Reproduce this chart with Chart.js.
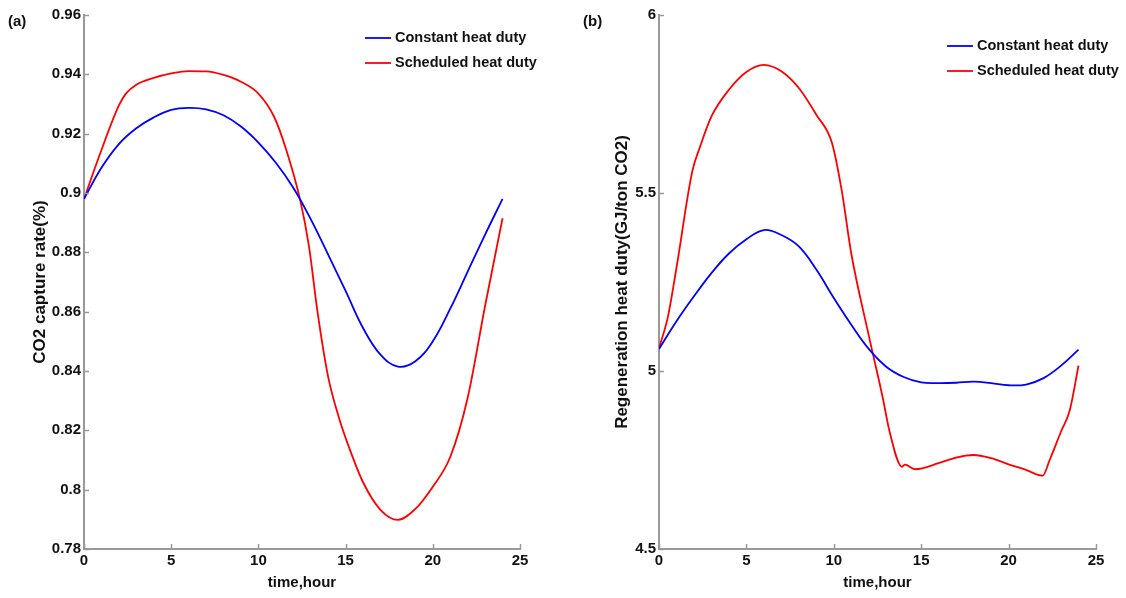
<!DOCTYPE html>
<html>
<head>
<meta charset="utf-8">
<script src="https://cdn.jsdelivr.net/npm/chart.js@4.4.0/dist/chart.umd.min.js"></script>
<style>
  body { margin: 0; background: #fff; }
  canvas { position: absolute; top: 0; }
  #chartA { left: 0; }
  #chartB { left: 560px; }
</style>
</head>
<body>
<canvas id="chartA" width="560" height="598"></canvas>
<canvas id="chartB" width="566" height="598"></canvas>
<script>
// (a) CO2 capture rate
var hoursConstA = [0,1,2,3,4,5,6,7,8,9,10,11,12,13,14,15,16,17,18,19,20,21,22,23,24];
var captureConst = [0.898,0.9085,0.9165,0.9218,0.9255,0.928,0.9287,0.9282,0.9262,0.9224,0.917,0.9102,0.9018,0.8912,0.8792,0.867,0.8545,0.8455,0.8415,0.8433,0.850,0.861,0.8735,0.886,0.898];
var hoursSchedA = [0,1,2,2.4,3,4,5,6,7,8,9,10,10.9,11.6,12.4,12.9,13.4,14,14.6,15.25,16,17,18,19,20,21,22,23,24];
var captureSched = [0.898,0.9145,0.9295,0.9335,0.9365,0.9388,0.9403,0.9411,0.941,0.9398,0.9375,0.9335,0.9257,0.9145,0.8975,0.882,0.8595,0.838,0.8246,0.8134,0.8025,0.7932,0.7898,0.7935,0.801,0.811,0.831,0.862,0.8915];

// (b) regeneration heat duty
var hoursConstB = [0,1,2,3,4,5,6,7,8,9,10,11,12,13,14,15,16,17,18,19,20,21,22,23,24];
var dutyConst = [5.062,5.14,5.21,5.275,5.33,5.37,5.396,5.382,5.35,5.285,5.205,5.13,5.062,5.012,4.983,4.968,4.966,4.967,4.970,4.966,4.960,4.962,4.980,5.015,5.06];
var hoursSchedB = [0,0.5,1,1.9,2.35,3,4,5,6,7,8,9,9.9,10.45,11,12,12.8,13.2,13.9,14.07,14.65,16,17,18,19,20,21,21.95,22.35,23,23.5,24];
var dutySched = [5.064,5.15,5.29,5.56,5.63,5.715,5.79,5.84,5.86,5.842,5.795,5.72,5.64,5.508,5.33,5.10,4.925,4.828,4.731,4.737,4.724,4.741,4.757,4.764,4.755,4.738,4.722,4.706,4.75,4.83,4.89,5.015];

var seriesNames = ['Constant heat duty', 'Scheduled heat duty'];
var seriesColors = ['#0000ff', '#ff0000'];

Chart.defaults.font.family = '"Liberation Sans", Arial, sans-serif';
Chart.defaults.font.weight = 'bold';
Chart.defaults.color = '#111';

function pts(xs, ys) {
    return xs.map(function (x, i) { return { x: x, y: ys[i] }; });
}

// legend, panel tag and inward tick marks, drawn the matlab way
var decor = {
    id: 'decor',
    afterDraw: function (chart, args, opts) {
        var ctx = chart.ctx;
        var area = chart.chartArea;
        ctx.save();
        ctx.strokeStyle = '#999';
        ctx.lineWidth = 1.5;
        chart.scales.x.ticks.forEach(function (t) {
            var px = Math.round(chart.scales.x.getPixelForValue(t.value)) + 0.5;
            ctx.beginPath();
            ctx.moveTo(px, area.bottom);
            ctx.lineTo(px, area.bottom - 5);
            ctx.stroke();
        });
        chart.scales.y.ticks.forEach(function (t) {
            var py = Math.round(chart.scales.y.getPixelForValue(t.value)) + 0.5;
            ctx.beginPath();
            ctx.moveTo(area.left, py);
            ctx.lineTo(area.left + 5, py);
            ctx.stroke();
        });

        ctx.font = 'bold 14.5px "Liberation Sans", Arial, sans-serif';
        ctx.textBaseline = 'middle';
        ctx.fillStyle = '#111';
        chart.data.datasets.forEach(function (ds, i) {
            var y = opts.legendY + i * opts.rowGap;
            ctx.strokeStyle = ds.borderColor;
            ctx.lineWidth = 1.8;
            ctx.beginPath();
            ctx.moveTo(opts.legendX, y);
            ctx.lineTo(opts.legendX + 26, y);
            ctx.stroke();
            ctx.fillText(ds.label, opts.legendX + 30, y);
        });

        ctx.font = 'bold 15px "Liberation Sans", Arial, sans-serif';
        ctx.fillText(opts.tag, opts.tagX, 22);
        ctx.restore();
    }
};

function makeChart(id, sets, yMin, yMax, yStep, yTitle, yDigits, axisWidth, titlePad, padRight, decorOpts) {
    return new Chart(document.getElementById(id), {
        type: 'line',
        data: {
            datasets: sets.map(function (s, i) {
                return {
                    label: seriesNames[i],
                    data: s,
                    borderColor: seriesColors[i],
                    borderWidth: 1.8,
                    pointRadius: 0,
                    tension: 0.4,
                    cubicInterpolationMode: i === 0 ? 'default' : 'monotone',
                    fill: false
                };
            })
        },
        options: {
            responsive: false,
            animation: false,
            layout: { padding: { top: 15, right: padRight, left: 0, bottom: 0 } },
            plugins: {
                legend: { display: false },
                tooltip: { enabled: false },
                decor: decorOpts
            },
            scales: {
                x: {
                    type: 'linear',
                    min: 0,
                    max: 25,
                    ticks: { stepSize: 5, padding: 3, font: { size: 15, weight: 'bold' }, maxRotation: 0 },
                    grid: { display: false, drawTicks: false },
                    border: { display: true, color: '#999', width: 2 },
                    title: { display: true, text: 'time,hour', font: { size: 15, weight: 'bold' }, padding: { top: 0, bottom: 6 } },
                    afterFit: function (scale) { scale.height = 49; }
                },
                y: {
                    min: yMin,
                    max: yMax,
                    ticks: {
                        stepSize: yStep,
                        padding: 3,
                        font: { size: 15, weight: 'bold' },
                        callback: function (v) { return String(+v.toFixed(yDigits)); }
                    },
                    grid: { display: false, drawTicks: false },
                    border: { display: true, color: '#999', width: 2 },
                    title: { display: true, text: yTitle, font: { size: 17, weight: 'bold' }, padding: { top: titlePad, bottom: 0 } },
                    afterFit: function (scale) { scale.width = axisWidth; }
                }
            }
        },
        plugins: [decor]
    });
}

makeChart('chartA',
    [pts(hoursConstA, captureConst), pts(hoursSchedA, captureSched)],
    0.78, 0.96, 0.02, 'CO2 capture rate(%)', 2, 84, 30, 40,
    { legendX: 365, legendY: 38, rowGap: 25, tag: '(a)', tagX: 8 });

makeChart('chartB',
    [pts(hoursConstB, dutyConst), pts(hoursSchedB, dutySched)],
    4.5, 6, 0.5, 'Regeneration heat duty(GJ/ton CO2)', 1, 99, 52, 30,
    { legendX: 387, legendY: 46, rowGap: 25, tag: '(b)', tagX: 23 });
</script>
</body>
</html>
